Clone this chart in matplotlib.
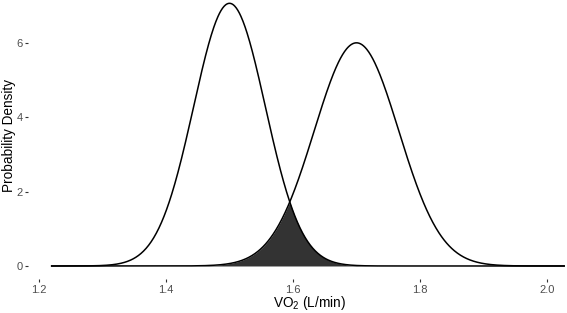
import numpy as np
import matplotlib
matplotlib.use('Agg')
import matplotlib.pyplot as plt

plt.rcParams['font.family'] = ['Liberation Sans', 'DejaVu Sans']

# two normal densities (mean, sd)
means = [1.5, 1.7]
sds = [0.0565, 0.0665]
x_range = [1.22, 2.027]
x_ticks = [1.2, 1.4, 1.6, 1.8, 2.0]
y_ticks = [0, 2, 4, 6]


def normal_pdf(x, mu, sd):
    return np.exp(-0.5*((x - mu)/sd)**2)/(sd*np.sqrt(2*np.pi))


x = np.linspace(x_range[0], x_range[1], 1000)
dens = [normal_pdf(x, m, s) for m, s in zip(means, sds)]
overlap = np.minimum(dens[0], dens[1])

W, H = 567, 313
fig = plt.figure(figsize=(W/100, H/100), dpi=100)
ax = fig.add_axes([28/W, (H - 279)/H, (W - 28)/W, 279/H])

ax.fill_between(x, 0, overlap, color='#333333', lw=0)
for d in dens:
    ax.plot(x, d, color='black', lw=1.1)

ax.set_xlim(1.1827, 2.0315)
ax.set_ylim(-0.35, 7.15)
ax.set_xticks(x_ticks)
ax.set_xticklabels(['{:.1f}'.format(t) for t in x_ticks])
ax.set_yticks(y_ticks)
for s in ax.spines.values():
    s.set_visible(False)
ax.tick_params(colors='#333333', labelcolor='#4D4D4D', labelsize=8,
               length=2.5, width=0.8, pad=1.5)
ax.set_xlabel('VO$_\\mathregular{2}$ (L/min)', fontsize=9.8)
ax.set_ylabel('Probability Density', fontsize=9.8)
ax.xaxis.label.set_va('center')
ax.yaxis.label.set_va('center')
ax.xaxis.set_label_coords((309 - 28)/(W - 28), (279 - 303)/279)
ax.yaxis.set_label_coords((9 - 28)/(W - 28), (279 - 135)/279)

fig.savefig('out.png', dpi=100)
